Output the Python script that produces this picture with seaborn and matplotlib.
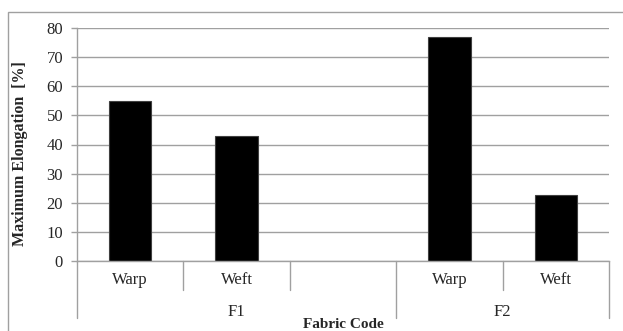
import numpy as np
import pandas as pd
import matplotlib
matplotlib.use("Agg")
import matplotlib.pyplot as plt
import matplotlib.transforms as mtransforms
import seaborn as sns

# data
slots = ["F1-Warp", "F1-Weft", "F1-blank", "F2-Warp", "F2-Weft"]
directions = ["Warp", "Weft", "", "Warp", "Weft"]
elongation = [55, 43, np.nan, 77, 22.5]
groups = ["F1", "F2"]
group_spans = [(-0.5, 2.5), (2.5, 4.5)]

df = pd.DataFrame({"slot": slots, "elongation": elongation})

sns.set_style("white")
plt.rcParams["font.family"] = ["Liberation Serif", "DejaVu Serif"]

grid_col = "#a0a0a0"

fig = plt.figure(figsize=(6.23, 3.31), dpi=100)
ax = fig.add_axes([77 / 623, 70 / 331, 532 / 623, 233 / 331])

# outer chart border
fig.patches.append(plt.Rectangle((8 / 623, -0.1), 0.99, 1.1 - 12 / 331,
                                 transform=fig.transFigure, fill=False,
                                 edgecolor=grid_col, linewidth=1))

sns.barplot(data=df, x="slot", y="elongation", order=slots, color="black",
            width=0.4, edgecolor="#404040", linewidth=0.8, ax=ax, errorbar=None,
            saturation=1)

ax.set_xlim(-0.5, 4.5)
ax.set_ylim(0, 80)
ax.set_yticks(range(0, 81, 10))
ax.yaxis.grid(True, color=grid_col, linewidth=1)
ax.set_axisbelow(True)
for s in ["top", "right"]:
    ax.spines[s].set_visible(False)
for s in ["bottom", "left"]:
    ax.spines[s].set_color(grid_col)
    ax.spines[s].set_linewidth(1)
ax.tick_params(axis="y", direction="out", length=4, color=grid_col, width=1,
               labelsize=12, pad=6, left=True)
ax.tick_params(axis="x", length=0, labelsize=12, pad=8)
ax.set_xticks(range(len(slots)))
ax.set_xticklabels(directions)

# category separators below the axis
trans = mtransforms.blended_transform_factory(ax.transData, ax.transAxes)
for xb in [0.5, 1.5, 3.5]:
    ax.plot([xb, xb], [0, -0.124], color=grid_col, lw=1, transform=trans, clip_on=False)
for xb in [-0.5, 2.5, 4.5]:
    ax.plot([xb, xb], [0, -0.245], color=grid_col, lw=1, transform=trans, clip_on=False)
for g, (a, b) in zip(groups, group_spans):
    ax.text((a + b) / 2, -0.219, g, transform=trans, ha="center", va="center", fontsize=12)

ax.set_xlabel("Fabric Code", fontsize=11, fontweight="bold")
ax.xaxis.set_label_coords(0.5, -0.245)
ax.xaxis.label.set_va("top")
ax.set_ylabel("Maximum Elongation  [%]", fontsize=11.5, fontweight="bold")
ax.yaxis.set_label_coords(-0.107, 0.463)
ax.yaxis.label.set_va("center")

fig.savefig("out.png", dpi=100)
